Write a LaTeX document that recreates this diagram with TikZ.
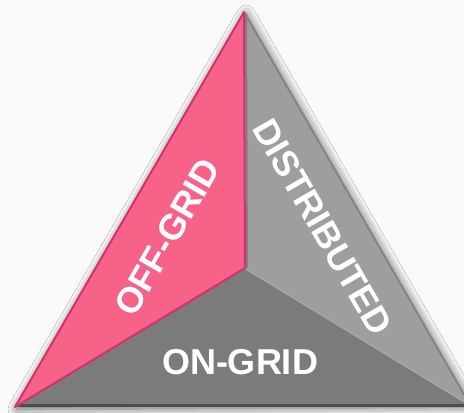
\documentclass[tikz,border=0pt]{standalone}
\usepackage{fontspec}
\setmainfont{Liberation Sans}
\usepackage{tikz}
\usetikzlibrary{shadows.blur}

\definecolor{offpink}{RGB}{246,98,136}
\definecolor{offedge}{RGB}{212,50,108}
\definecolor{distgray}{RGB}{158,158,158}
\definecolor{distedge}{RGB}{128,128,128}
\definecolor{ongray}{RGB}{123,123,123}
\definecolor{backgray}{RGB}{250,250,250}

\tikzset{
    label/.style={text=white,font=\fontsize{36}{36}\selectfont\bfseries,inner sep=0pt},
}

\begin{document}
\begin{tikzpicture}[x=1pt,y=-1pt]
\useasboundingbox (0,0) rectangle (464,413);
\fill[backgray] (0,0) rectangle (464,413);

% outer triangle with its shadow
\fill[ongray,blur shadow={shadow xshift=2pt,shadow yshift=-2pt,shadow blur radius=9pt,shadow opacity=65}]
    (244,12) -- (15,407) -- (470,405) -- cycle;

\begin{scope}[line join=round]
    % bottom face
    \fill[ongray] (15,407) -- (245,268) -- (470,405) -- cycle;
    \draw[black!70,line width=3pt] (15,405) -- (470,405);
    \draw[distgray!85,line width=2pt] (245,268) -- (470,405);

    % right face
    \fill[distgray] (244,12) -- (245,268) -- (470,405) -- cycle;
    \draw[distedge,line width=1.5pt] (244,12) -- (470,405);
    \draw[distedge,line width=2pt] (246,14) -- (247,268);

    % left face
    \fill[offpink] (244,12) -- (15,407) -- (245,268) -- cycle;
    \draw[offedge,line width=2pt] (244,12) -- (15,407) -- (245,268) -- cycle;
\end{scope}

\node[label,rotate=60] (offgrid) at (167,237) {OFF-GRID};
\node[label,rotate=-60] (distributed) at (323,227) {DISTRIBUTED};
\node[label] (ongrid) at (240,362) {ON-GRID};
\end{tikzpicture}
\end{document}
